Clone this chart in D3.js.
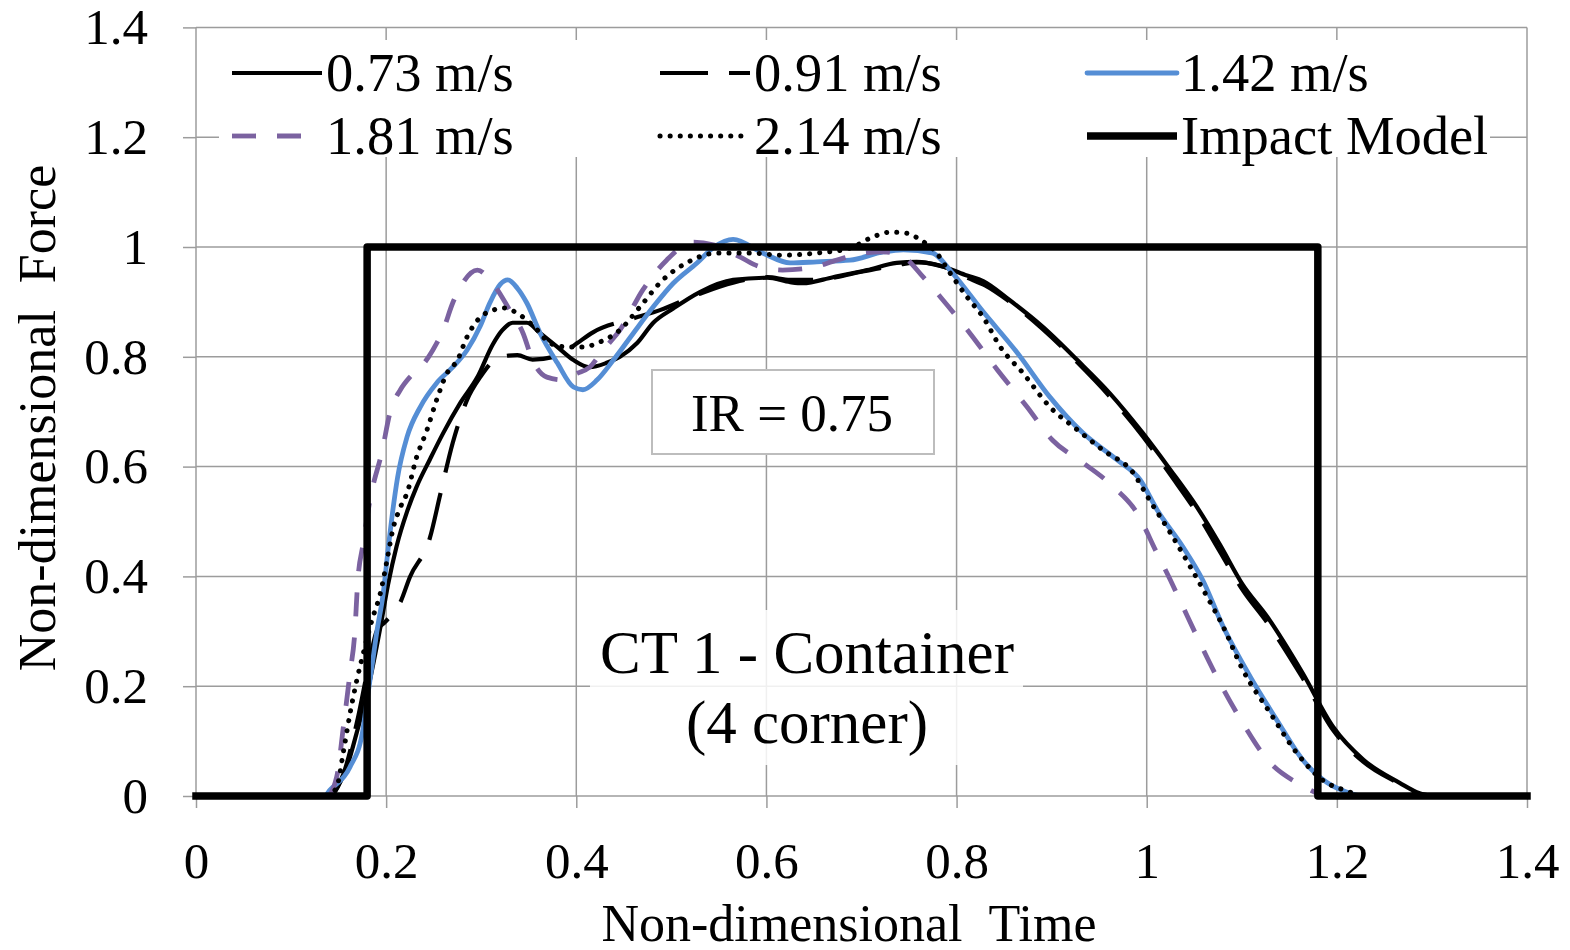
<!DOCTYPE html>
<html>
<head>
<meta charset="utf-8">
<script src="https://cdn.jsdelivr.net/npm/d3@7/dist/d3.min.js"></script>
<style>
  body { margin: 0; background: #fff; }
  svg { display: block; font-family: "Liberation Serif", "Times New Roman", serif; }
  .grid line { stroke: #9c9c9c; stroke-width: 1.5; }
  .axis path { display: none; }
  .axis line { stroke: #9c9c9c; stroke-width: 1.5; }
  .axis text { font-family: "Liberation Serif", serif; font-size: 51px; fill: #000; }
</style>
</head>
<body>
<svg id="chart" width="1570" height="950"></svg>
<script>
// ---- data ----
var xTicks = [0, 0.2, 0.4, 0.6, 0.8, 1, 1.2, 1.4];
var xTickLabels = ["0", "0.2", "0.4", "0.6", "0.8", "1", "1.2", "1.4"];
var yTicks = [0, 0.2, 0.4, 0.6, 0.8, 1, 1.2, 1.4];
var yTickLabels = ["0", "0.2", "0.4", "0.6", "0.8", "1", "1.2", "1.4"];

var seriesNames = ["0.73 m/s", "0.91 m/s", "1.42 m/s", "1.81 m/s", "2.14 m/s", "Impact Model"];

var s073 = [[0,0],[0.14,0],[0.15,0.02],[0.16,0.06],[0.169,0.115],[0.18,0.188],[0.194,0.308],[0.202,0.385],
  [0.211,0.455],[0.222,0.518],[0.232,0.563],[0.246,0.613],[0.26,0.661],[0.278,0.716],[0.296,0.763],[0.312,0.822],
  [0.322,0.848],[0.333,0.862],[0.348,0.862],[0.362,0.843],[0.38,0.818],[0.397,0.794],[0.414,0.781],[0.432,0.789],
  [0.446,0.8],[0.464,0.825],[0.481,0.862],[0.502,0.888],[0.53,0.918],[0.565,0.94],[0.601,0.944],[0.625,0.936],
  [0.638,0.934],[0.67,0.945],[0.706,0.958],[0.737,0.971],[0.758,0.973],[0.786,0.964],[0.811,0.948],[0.828,0.938],
  [0.856,0.903],[0.891,0.854],[0.927,0.794],[0.961,0.734],[0.996,0.661],[1.025,0.594],[1.053,0.526],[1.077,0.458],
  [1.101,0.385],[1.127,0.326],[1.164,0.224],[1.196,0.126],[1.228,0.066],[1.266,0.024],[1.287,0.005],[1.3,0]];

var s091 = [[0,0],[0.14,0],[0.155,0.04],[0.17,0.14],[0.183,0.25],[0.19,0.3],[0.199,0.317],[0.215,0.353],
  [0.225,0.399],[0.246,0.47],[0.257,0.55],[0.27,0.643],[0.285,0.721],[0.299,0.763],[0.32,0.8],[0.338,0.803],
  [0.354,0.795],[0.383,0.803],[0.401,0.825],[0.418,0.845],[0.46,0.87],[0.488,0.885],[0.53,0.915],[0.565,0.935],
  [0.601,0.945],[0.625,0.94],[0.65,0.94],[0.7,0.955],[0.74,0.968],[0.76,0.972],[0.79,0.962],[0.81,0.945],
  [0.83,0.93],[0.856,0.9],[0.891,0.85],[0.927,0.79],[0.961,0.728],[0.996,0.655],[1.025,0.585],[1.053,0.515],
  [1.077,0.445],[1.101,0.375],[1.127,0.315],[1.164,0.215],[1.196,0.12],[1.228,0.062],[1.266,0.022],[1.285,0.004],[1.3,0]];

var s142 = [[0,0],[0.135,0],[0.141,0.011],[0.162,0.053],[0.175,0.115],[0.18,0.175],[0.185,0.235],[0.19,0.297],
  [0.197,0.37],[0.202,0.448],[0.207,0.52],[0.212,0.58],[0.222,0.654],[0.236,0.709],[0.253,0.752],[0.27,0.781],
  [0.285,0.812],[0.299,0.856],[0.309,0.898],[0.32,0.932],[0.328,0.94],[0.338,0.925],[0.348,0.898],[0.362,0.843],
  [0.38,0.789],[0.397,0.745],[0.407,0.74],[0.422,0.758],[0.439,0.794],[0.46,0.843],[0.481,0.891],[0.502,0.934],
  [0.527,0.971],[0.545,1.0],[0.565,1.014],[0.596,0.989],[0.625,0.971],[0.653,0.973],[0.688,0.976],[0.723,0.991],
  [0.744,0.995],[0.775,0.989],[0.793,0.958],[0.828,0.882],[0.864,0.807],[0.898,0.727],[0.933,0.661],[0.969,0.612],
  [0.993,0.576],[1.011,0.521],[1.038,0.454],[1.059,0.393],[1.08,0.31],[1.109,0.217],[1.137,0.138],[1.164,0.066],
  [1.19,0.024],[1.214,0.005],[1.225,0]];

var s181 = [[0,0],[0.138,0],[0.148,0.035],[0.155,0.126],[0.162,0.224],[0.167,0.297],[0.17,0.388],[0.176,0.461],
  [0.183,0.539],[0.196,0.63],[0.204,0.698],[0.215,0.74],[0.225,0.763],[0.236,0.78],[0.249,0.812],[0.26,0.849],
  [0.27,0.898],[0.278,0.927],[0.296,0.958],[0.312,0.934],[0.33,0.885],[0.344,0.843],[0.354,0.794],[0.369,0.763],
  [0.386,0.758],[0.401,0.77],[0.414,0.781],[0.428,0.812],[0.446,0.849],[0.47,0.922],[0.495,0.976],[0.523,1.009],
  [0.544,1.004],[0.572,0.982],[0.593,0.964],[0.617,0.958],[0.646,0.962],[0.674,0.976],[0.702,0.989],[0.723,0.991],
  [0.744,0.982],[0.765,0.945],[0.783,0.909],[0.814,0.843],[0.843,0.776],[0.874,0.709],[0.901,0.648],[0.933,0.607],
  [0.965,0.563],[0.99,0.515],[1.01,0.445],[1.025,0.393],[1.038,0.345],[1.056,0.279],[1.077,0.206],[1.101,0.133],
  [1.127,0.066],[1.158,0.024],[1.172,0.011],[1.185,0]];

var s214 = [[0,0],[0.138,0],[0.148,0.016],[0.155,0.08],[0.162,0.15],[0.169,0.21],[0.176,0.26],[0.185,0.32],
  [0.194,0.37],[0.201,0.43],[0.207,0.485],[0.215,0.526],[0.222,0.552],[0.232,0.617],[0.243,0.667],[0.253,0.721],
  [0.264,0.77],[0.275,0.794],[0.285,0.836],[0.299,0.872],[0.311,0.884],[0.323,0.889],[0.341,0.876],[0.359,0.849],
  [0.372,0.825],[0.39,0.818],[0.407,0.818],[0.425,0.827],[0.446,0.849],[0.467,0.891],[0.491,0.94],[0.516,0.971],
  [0.548,0.989],[0.583,0.989],[0.617,0.985],[0.653,0.989],[0.688,0.998],[0.709,1.016],[0.73,1.027],[0.748,1.025],
  [0.762,1.013],[0.779,0.989],[0.793,0.953],[0.811,0.909],[0.828,0.872],[0.846,0.818],[0.87,0.77],[0.898,0.709],
  [0.927,0.667],[0.954,0.63],[0.986,0.588],[1.003,0.539],[1.025,0.479],[1.046,0.417],[1.067,0.352],[1.08,0.31],
  [1.101,0.23],[1.13,0.151],[1.158,0.078],[1.185,0.029],[1.214,0.007],[1.225,0]];

var impactTime = [0, 0.18, 0.18, 1.18, 1.18, 1.4];
var impactForce = [0, 0, 1, 1, 0, 0];

var irLabel = "IR = 0.75";
var caseLabel = ["CT 1 - Container", "(4 corner)"];

// ---- layout ----
var svg = d3.select("#chart");
var plotLeft = 196, plotRight = 1527, plotTop = 27.4, plotBottom = 796;

var x = d3.scaleLinear().domain([0, 1.4]).range([plotLeft, plotRight]);
var y = d3.scaleLinear().domain([0, 1.4]).range([plotBottom, plotTop]);

// grid
var grid = svg.append("g").attr("class", "grid");
grid.selectAll(".h").data(yTicks).enter().append("line")
  .attr("x1", plotLeft).attr("x2", plotRight)
  .attr("y1", function(d) { return y(d); }).attr("y2", function(d) { return y(d); });
grid.selectAll(".v").data(xTicks).enter().append("line")
  .attr("y1", plotTop).attr("y2", plotBottom)
  .attr("x1", function(d) { return x(d); }).attr("x2", function(d) { return x(d); });

// axes
svg.append("g").attr("class", "axis")
  .attr("transform", "translate(" + plotLeft + ",0)")
  .call(d3.axisLeft(y).tickValues(yTicks).tickSize(13).tickPadding(35)
    .tickFormat(function(d, i) { return yTickLabels[i]; }));
svg.append("g").attr("class", "axis")
  .attr("transform", "translate(0," + plotBottom + ")")
  .call(d3.axisBottom(x).tickValues(xTicks).tickSize(12).tickPadding(34)
    .tickFormat(function(d, i) { return xTickLabels[i]; }));

// axis titles
svg.append("text")
  .attr("x", 849).attr("y", 941)
  .attr("text-anchor", "middle")
  .style("font-size", "52px")
  .style("word-spacing", "14px")
  .text("Non-dimensional Time");
svg.append("text")
  .attr("transform", "translate(55,418) rotate(-90)")
  .attr("text-anchor", "middle")
  .style("font-size", "52px")
  .style("word-spacing", "14px")
  .text("Non-dimensional Force");

// annotation boxes
svg.append("rect")
  .attr("x", 590).attr("y", 610).attr("width", 433).attr("height", 155)
  .attr("fill", "#fff").attr("fill-opacity", 0.85);
svg.append("text")
  .attr("x", 807).attr("y", 673).attr("text-anchor", "middle")
  .style("font-size", "61px").text(caseLabel[0]);
svg.append("text")
  .attr("x", 807).attr("y", 743).attr("text-anchor", "middle")
  .style("font-size", "61px").text(caseLabel[1]);

svg.append("rect")
  .attr("x", 652).attr("y", 370).attr("width", 282).attr("height", 84)
  .attr("fill", "#fff").attr("stroke", "#bdbdbd").attr("stroke-width", 2);
svg.append("text")
  .attr("x", 792).attr("y", 431).attr("text-anchor", "middle")
  .style("font-size", "53px").text(irLabel);

// series
var impact = impactTime.map(function(t, i) { return [t, impactForce[i]]; });
var seriesData = [s073, s091, s142, s181, s214, impact];
var seriesStyle = [
  { color: "#000", width: 4.2, dash: null, cap: "butt" },
  { color: "#000", width: 4.2, dash: "48,21", cap: "butt" },
  { color: "#558ed5", width: 4.8, dash: null, cap: "round" },
  { color: "#7b62a0", width: 4.8, dash: "24,21", cap: "butt" },
  { color: "#000", width: 5, dash: "0.1,10", cap: "round" },
  { color: "#000", width: 7.5, dash: null, cap: "square" }
];

var smooth = d3.line()
  .x(function(d) { return x(d[0]); })
  .y(function(d) { return y(d[1]); })
  .curve(d3.curveMonotoneX);
var straight = d3.line()
  .x(function(d) { return x(d[0]); })
  .y(function(d) { return y(d[1]); });

svg.append("g").selectAll("path")
  .data(seriesData)
  .enter().append("path")
  .attr("d", function(d, i) { return i === 5 ? straight(d) : smooth(d); })
  .attr("fill", "none")
  .attr("stroke", function(d, i) { return seriesStyle[i].color; })
  .attr("stroke-width", function(d, i) { return seriesStyle[i].width; })
  .attr("stroke-dasharray", function(d, i) { return seriesStyle[i].dash; })
  .attr("stroke-linecap", function(d, i) { return seriesStyle[i].cap; })
  .attr("stroke-linejoin", "round");

// legend
svg.append("rect")
  .attr("x", 219).attr("y", 40).attr("width", 1271).attr("height", 117)
  .attr("fill", "#fff");
var colX = [232, 660, 1087];
var rowY = [73, 136];
var leg = svg.append("g").selectAll("g")
  .data(seriesNames)
  .enter().append("g")
  .attr("transform", function(d, i) {
    return "translate(" + colX[i % 3] + "," + rowY[Math.floor(i / 3)] + ")";
  });
leg.append("line")
  .attr("x1", 0).attr("x2", 90).attr("y1", 0).attr("y2", 0)
  .attr("stroke", function(d, i) { return seriesStyle[i].color; })
  .attr("stroke-width", function(d, i) { return seriesStyle[i].width; })
  .attr("stroke-dasharray", function(d, i) { return seriesStyle[i].dash; })
  .attr("stroke-linecap", function(d, i) { return seriesStyle[i].cap === "round" ? "round" : "butt"; });
leg.append("text")
  .attr("x", 94).attr("y", 18)
  .style("font-size", "54.5px")
  .text(function(d) { return d; });
</script>
</body>
</html>
